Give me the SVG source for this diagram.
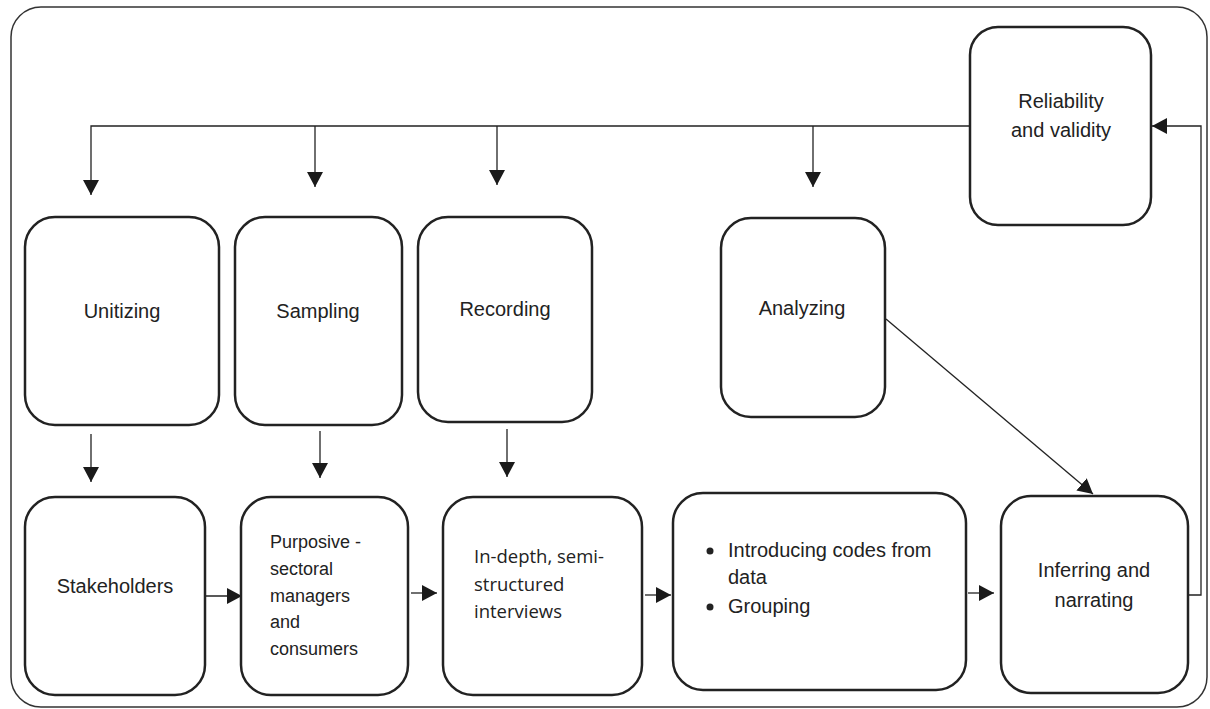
<svg xmlns="http://www.w3.org/2000/svg" width="1210" height="709" viewBox="0 0 1210 709">
<style>
.box{fill:#fff;stroke:#222;stroke-width:2.5}
.ln{fill:none;stroke:#222;stroke-width:1.3}
.t{font-family:"Liberation Sans",Arial,sans-serif;font-size:20px;fill:#222}
.t2{font-family:"Liberation Sans",Arial,sans-serif;font-size:18px;fill:#222}
.t3{font-family:"Open Sans","Noto Sans",sans-serif;font-size:18.5px;fill:#222}
</style>
<defs>
<marker id="ah" markerUnits="userSpaceOnUse" markerWidth="16" markerHeight="16" viewBox="0 0 16 16" refX="15" refY="8" orient="auto">
<path d="M0,0 L15,8 L0,16 Z" fill="#1a1a1a"/>
</marker>
</defs>
<rect x="11" y="7" width="1196" height="700" rx="30" fill="#fff" stroke="#333" stroke-width="1.5"/>
<g id="connectors">
<path class="ln" d="M970,126 H91 V195" marker-end="url(#ah)"/>
<path class="ln" d="M315,126 V187" marker-end="url(#ah)"/>
<path class="ln" d="M497,126 V185" marker-end="url(#ah)"/>
<path class="ln" d="M813,126 V187" marker-end="url(#ah)"/>
<path class="ln" d="M91,434 V482" marker-end="url(#ah)"/>
<path class="ln" d="M320,431 V478" marker-end="url(#ah)"/>
<path class="ln" d="M507,429 V477" marker-end="url(#ah)"/>
<path class="ln" d="M205,596 H242" marker-end="url(#ah)"/>
<path class="ln" d="M411,593 H437" marker-end="url(#ah)"/>
<path class="ln" d="M645,595 H671" marker-end="url(#ah)"/>
<path class="ln" d="M968,593 H994" marker-end="url(#ah)"/>
<path class="ln" d="M886,319 L1093,494" marker-end="url(#ah)"/>
<path class="ln" d="M1188,595 H1201 V126 H1152" marker-end="url(#ah)"/>
</g>
<g id="reliability">
<rect class="box" x="970" y="27" width="181" height="198" rx="28"/>
<text class="t" x="1061" y="108" text-anchor="middle">Reliability</text>
<text class="t" x="1061" y="137" text-anchor="middle">and validity</text>
</g>
<g id="unitizing">
<rect class="box" x="25" y="217" width="194" height="208" rx="30"/>
<text class="t" x="122" y="318" text-anchor="middle">Unitizing</text>
</g>
<g id="sampling">
<rect class="box" x="235" y="217" width="167" height="208" rx="30"/>
<text class="t" x="318" y="318" text-anchor="middle">Sampling</text>
</g>
<g id="recording">
<rect class="box" x="418" y="217" width="174" height="205" rx="30"/>
<text class="t" x="505" y="316" text-anchor="middle">Recording</text>
</g>
<g id="analyzing">
<rect class="box" x="721" y="218" width="164" height="199" rx="30"/>
<text class="t" x="802" y="315" text-anchor="middle">Analyzing</text>
</g>
<g id="stakeholders">
<rect class="box" x="25" y="497" width="180" height="198" rx="30"/>
<text class="t" x="115" y="593" text-anchor="middle">Stakeholders</text>
</g>
<g id="purposive">
<rect class="box" x="241" y="497" width="167" height="198" rx="30"/>
<text class="t2" x="270" y="548">Purposive -</text>
<text class="t2" x="270" y="575">sectoral</text>
<text class="t2" x="270" y="602">managers</text>
<text class="t2" x="270" y="628">and</text>
<text class="t2" x="270" y="655">consumers</text>
</g>
<g id="indepth">
<rect class="box" x="443" y="497" width="199" height="198" rx="30"/>
<text class="t3" x="474" y="563">In-depth, semi-</text>
<text class="t3" x="474" y="591">structured</text>
<text class="t3" x="474" y="618">interviews</text>
</g>
<g id="coding">
<rect class="box" x="673" y="493" width="293" height="197" rx="30"/>
<circle cx="710" cy="551" r="3.5" fill="#222"/>
<circle cx="710" cy="607" r="3.5" fill="#222"/>
<text class="t" x="728" y="557">Introducing codes from</text>
<text class="t" x="728" y="584">data</text>
<text class="t" x="728" y="613">Grouping</text>
</g>
<g id="inferring">
<rect class="box" x="1001" y="496" width="187" height="197" rx="30"/>
<text class="t" x="1094" y="577" text-anchor="middle">Inferring and</text>
<text class="t" x="1094" y="607" text-anchor="middle">narrating</text>
</g>
</svg>
